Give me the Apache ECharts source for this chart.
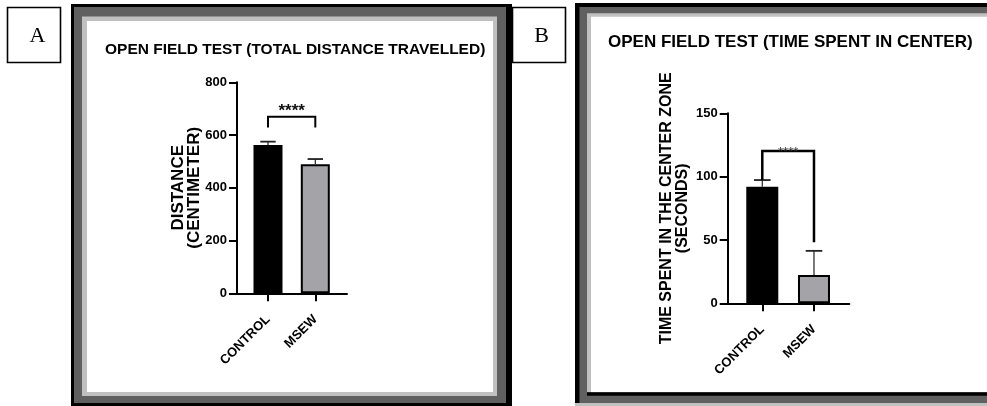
<!DOCTYPE html>
<html>
<head>
<meta charset="utf-8">
<script src="https://cdn.jsdelivr.net/npm/echarts@6/dist/echarts.min.js"></script>
<style>
html,body{margin:0;padding:0;background:#fff;}
#chart{width:987px;height:406px;}
</style>
</head>
<body>
<div id="chart"></div>
<script>
// ---- data ----
const categories = ['CONTROL', 'MSEW'];
const distanceMean = [562, 489];
const distanceSem = [13, 20];
const centerTimeMean = [92, 22.4];
const centerTimeSem = [5.3, 19];
const distanceTicks = [0, 200, 400, 600, 800];
const centerTimeTicks = [0, 50, 100, 150];
// significance bracket: [top of bracket, left leg end, right leg end]
const distanceBracket = [669, 629, 629];
const centerTimeBracket = [120.2, 97.3, 48.2];
const sigLabel = '****';
const titleA = 'OPEN FIELD TEST (TOTAL DISTANCE TRAVELLED)';
const titleB = 'OPEN FIELD TEST (TIME SPENT IN CENTER)';
const yNameA = 'DISTANCE\n(CENTIMETER)';
const yNameB = 'TIME SPENT IN THE CENTER ZONE\n(SECONDS)';

// ---- style ----
const barColors = ['#000000', '#a4a4a8'];
const FONT = 'Liberation Sans, Arial, sans-serif';
const catPos = categories.map((c, i) => i + 1);

const chart = echarts.init(document.getElementById('chart'), null, {renderer: 'canvas'});

function barData(means) {
  return categories.map((c, i) => ({value: [catPos[i], means[i]], itemStyle: {color: barColors[i]}}));
}
function errData(means, sems) {
  return categories.map((c, i) => [catPos[i], means[i], means[i] + sems[i]]);
}
function errRender(capHalf) {
  return function (params, api) {
    const x = api.value(0), m = api.value(1), t = api.value(2);
    const p0 = api.coord([x, m]), p1 = api.coord([x, t]);
    return {type: 'group', children: [
      {type: 'line', shape: {x1: p0[0], y1: p0[1], x2: p1[0], y2: p1[1]}, style: {stroke: '#222', lineWidth: 1.2}},
      {type: 'line', shape: {x1: p1[0] - capHalf, y1: p1[1], x2: p1[0] + capHalf, y2: p1[1]}, style: {stroke: '#222', lineWidth: 1.8}}
    ]};
  };
}
function bracketRender(label, lw, fs, dy, color, weight) {
  return function (params, api) {
    const x1 = api.value(0), x2 = api.value(1), top = api.value(2), l = api.value(3), r = api.value(4);
    const a = api.coord([x1, l]), b = api.coord([x1, top]), c = api.coord([x2, top]), d = api.coord([x2, r]);
    return {type: 'group', children: [
      {type: 'polyline', shape: {points: [a, b, c, d]}, style: {stroke: '#000', lineWidth: lw, fill: null}},
      {type: 'text', x: (b[0] + c[0]) / 2, y: b[1] + dy,
       style: {text: label, fontSize: fs, fontFamily: FONT, fontWeight: weight, fill: color, align: 'center', verticalAlign: 'middle'}}
    ]};
  };
}

const axisLine = {show: true, lineStyle: {color: '#000', width: 2}};
const axisTick = {show: true, length: 8, lineStyle: {color: '#000', width: 2}};
const tickLabel = {color: '#000', fontFamily: FONT, fontWeight: 'bold', fontSize: 13};

function xAxisCfg(gi, min, max) {
  return {
    type: 'value', gridIndex: gi, min: min, max: max,
    axisLine: axisLine,
    axisTick: Object.assign({}, axisTick, {customValues: catPos}),
    axisLabel: Object.assign({}, tickLabel, {fontSize: 13, customValues: catPos, rotate: 45, margin: 24,
      formatter: v => categories[Math.round(v) - 1] || ''}),
    splitLine: {show: false}
  };
}
function yAxisCfg(gi, ticks, name, gap, fs) {
  return {
    type: 'value', gridIndex: gi, min: ticks[0], max: ticks[ticks.length - 1], interval: ticks[1] - ticks[0],
    axisLine: axisLine, axisTick: axisTick,
    axisLabel: Object.assign({}, tickLabel, {margin: 10}),
    splitLine: {show: false},
    name: name, nameLocation: 'middle', nameGap: gap, nameMoveOverlap: false,
    nameTextStyle: {color: '#000', fontFamily: FONT, fontWeight: 'bold', fontSize: fs, lineHeight: 16, align: 'center'}
  };
}

const frames = [
  // panel A frame
  {type: 'rect', z: -10, shape: {x: 71, y: 4, width: 441, height: 402}, style: {fill: '#000'}},
  {type: 'rect', z: -9, shape: {x: 74, y: 7, width: 432, height: 396}, style: {fill: '#606060'}},
  {type: 'rect', z: -8, shape: {x: 82, y: 16.5, width: 415, height: 379.5}, style: {fill: '#c0c0c0'}},
  {type: 'rect', z: -7, shape: {x: 87, y: 21, width: 406, height: 371}, style: {fill: '#fff'}},
  // panel B frame
  {type: 'rect', z: -10, shape: {x: 575, y: 3, width: 420, height: 400}, style: {fill: '#000'}},
  {type: 'rect', z: -9, shape: {x: 579.5, y: 7, width: 420, height: 396}, style: {fill: '#606060'}},
  {type: 'rect', z: -9, shape: {x: 575, y: 403, width: 420, height: 3}, style: {fill: '#c0c0c0'}},
  {type: 'rect', z: -8, shape: {x: 587, y: 13.3, width: 410, height: 379}, style: {fill: '#c0c0c0'}},
  {type: 'rect', z: -7, shape: {x: 591, y: 16.7, width: 410, height: 375.6}, style: {fill: '#fff'}},
  {type: 'rect', z: -7, shape: {x: 587, y: 392.3, width: 410, height: 3.4}, style: {fill: '#000'}},
  // panel labels
  {type: 'rect', z: -5, shape: {x: 7.5, y: 7.5, width: 53, height: 55}, style: {fill: '#fff', stroke: '#000', lineWidth: 1.6}},
  {type: 'text', z: -4, x: 37.5, y: 36, style: {text: 'A', fontSize: 22, fontFamily: 'Liberation Serif, Times New Roman, serif', fill: '#000', align: 'center', verticalAlign: 'middle'}},
  {type: 'rect', z: -5, shape: {x: 512.5, y: 7.5, width: 53, height: 55}, style: {fill: '#fff', stroke: '#000', lineWidth: 1.6}},
  {type: 'text', z: -4, x: 541.5, y: 36, style: {text: 'B', fontSize: 22, fontFamily: 'Liberation Serif, Times New Roman, serif', fill: '#000', align: 'center', verticalAlign: 'middle'}}
];

const option = {
  backgroundColor: '#fff',
  animation: false,
  graphic: {elements: frames},
  title: [
    {text: titleA, left: 100, top: 37, textStyle: {color: '#000', fontFamily: FONT, fontWeight: 'bold', fontSize: 15.5}},
    {text: titleB, left: 603, top: 29, textStyle: {color: '#000', fontFamily: FONT, fontWeight: 'bold', fontSize: 17}}
  ],
  grid: [
    {left: 237, top: 82.3, width: 110, height: 211},
    {left: 727.7, top: 113.3, width: 121.6, height: 190}
  ],
  xAxis: [xAxisCfg(0, 0.345, 2.67), xAxisCfg(1, 0.331, 2.683)],
  yAxis: [yAxisCfg(0, distanceTicks, yNameA, 35, 17), yAxisCfg(1, centerTimeTicks, yNameB, 37, 16)],
  series: [
    {type: 'bar', xAxisIndex: 0, yAxisIndex: 0, barWidth: 29, data: barData(distanceMean),
     itemStyle: {borderColor: '#000', borderWidth: 2}, z: 2},
    {type: 'custom', xAxisIndex: 0, yAxisIndex: 0, renderItem: errRender(7.7), data: errData(distanceMean, distanceSem),
     encode: {x: 0, y: [1, 2]}, z: 3},
    {type: 'custom', xAxisIndex: 0, yAxisIndex: 0, renderItem: bracketRender(sigLabel, 2, 17, -6, '#111', 'bold'),
     data: [[catPos[0], catPos[1], distanceBracket[0], distanceBracket[1], distanceBracket[2]]],
     encode: {x: [0, 1], y: [2, 3, 4]}, z: 4},
    {type: 'bar', xAxisIndex: 1, yAxisIndex: 1, barWidth: 32, data: barData(centerTimeMean),
     itemStyle: {borderColor: '#000', borderWidth: 2}, z: 2},
    {type: 'custom', xAxisIndex: 1, yAxisIndex: 1, renderItem: errRender(8.3), data: errData(centerTimeMean, centerTimeSem),
     encode: {x: 0, y: [1, 2]}, z: 3},
    {type: 'custom', xAxisIndex: 1, yAxisIndex: 1, renderItem: bracketRender(sigLabel, 2.5, 13, 1, '#333', 'normal'),
     data: [[catPos[0], catPos[1], centerTimeBracket[0], centerTimeBracket[1], centerTimeBracket[2]]],
     encode: {x: [0, 1], y: [2, 3, 4]}, z: 4}
  ]
};
chart.setOption(option);
</script>
</body>
</html>
